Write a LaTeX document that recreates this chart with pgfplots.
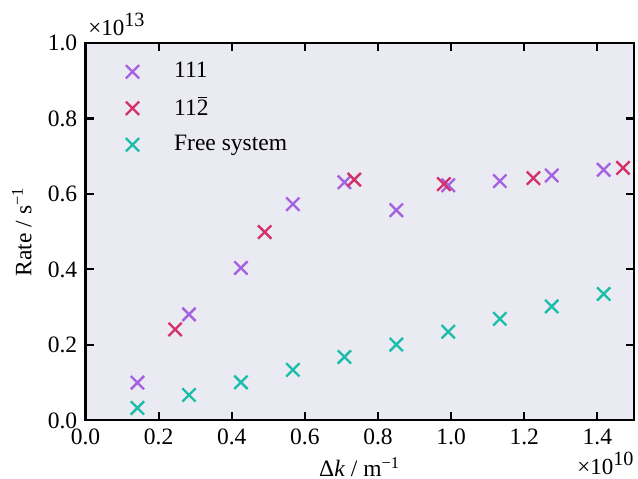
\documentclass[border=0pt]{standalone}
\usepackage{fontspec}
\setmainfont{Liberation Serif}
\usepackage{pgfplots}
\pgfplotsset{compat=1.18}
\definecolor{bgc}{RGB}{234,234,242}
\definecolor{cpur}{RGB}{164,98,224}
\definecolor{cred}{RGB}{212,48,106}
\definecolor{cteal}{RGB}{26,190,170}
\newcommand{\sci}[1]{{\fontsize{9.8}{11}\selectfont ×10}\raisebox{4.2pt}{\fontsize{8.6}{10}\selectfont #1}}
\begin{document}
\begin{tikzpicture}
\begin{axis}[
  scale only axis, width=233.4pt, height=160.6pt,
  xmin=0, xmax=1.5, ymin=0, ymax=1.0,
  clip=false,
  axis background/.style={fill=bgc},
  axis line style={line width=0.9pt, black},
  tick align=inside, major tick length=3.5pt,
  every tick/.style={line width=0.9pt, black},
  xtick={0,0.2,0.4,0.6,0.8,1.0,1.2,1.4},
  ytick={0,0.2,0.4,0.6,0.8,1.0},
  scaled ticks=false,
  /pgf/number format/assume math mode=true,
  xticklabel style={/pgf/number format/.cd, fixed, fixed zerofill, precision=1},
  yticklabel style={/pgf/number format/.cd, fixed, fixed zerofill, precision=1},
  tick label style={font=\fontsize{10}{12}\selectfont},
  label style={font=\fontsize{10}{12}\selectfont},
  xlabel={Δ\textit{k} / m\textsuperscript{−1}},
  xlabel style={yshift=1.5pt},
  ylabel={Rate / s\textsuperscript{−1}},
  legend image code/.code={\path[draw=none] (0pt,0pt) -- (22.5pt,0pt); \draw[#1, only marks] plot coordinates {(6.8pt,0pt)};},
  legend style={draw=none, fill=none, at={(10pt,156.6pt)}, anchor=north west,
    font=\fontsize{10}{12}\selectfont, row sep=2.7pt},
  legend cell align=left,
]
\addplot[only marks, mark=x, mark size=4pt, line width=1pt, color=cpur] coordinates {
(0.142,0.100) (0.283,0.281) (0.425,0.404) (0.567,0.573) (0.708,0.631)
(0.850,0.557) (0.992,0.623) (1.133,0.634) (1.275,0.649) (1.417,0.664)};
\addlegendentry{111}
\addplot[only marks, mark=x, mark size=4pt, line width=1pt, color=cred] coordinates {
(0.245,0.241) (0.490,0.499) (0.735,0.638) (0.980,0.626) (1.225,0.642) (1.470,0.669)};
\addlegendentry{11\makebox[0pt][l]{\hspace{0.6pt}\rule[7.6pt]{3.8pt}{0.45pt}}2}
\addplot[only marks, mark=x, mark size=4pt, line width=1pt, color=cteal] coordinates {
(0.142,0.033) (0.283,0.0675) (0.425,0.101) (0.567,0.134) (0.708,0.168)
(0.850,0.201) (0.992,0.235) (1.133,0.269) (1.275,0.302) (1.417,0.335)};
\addlegendentry{Free system}
\node[anchor=base west, inner sep=0pt] at (rel axis cs:0,1) [xshift=1pt, yshift=3pt] {\sci{13}};
\node[anchor=base east, inner sep=0pt] at (rel axis cs:1,0) [yshift=-23.2pt] {\sci{10}};
\end{axis}
\pgfresetboundingbox
\path[use as bounding box] ([shift={(-36.4pt,-24.9pt)}]current axis.south west) rectangle ([shift={(1.7pt,18.3pt)}]current axis.north east);
\end{tikzpicture}
\end{document}
